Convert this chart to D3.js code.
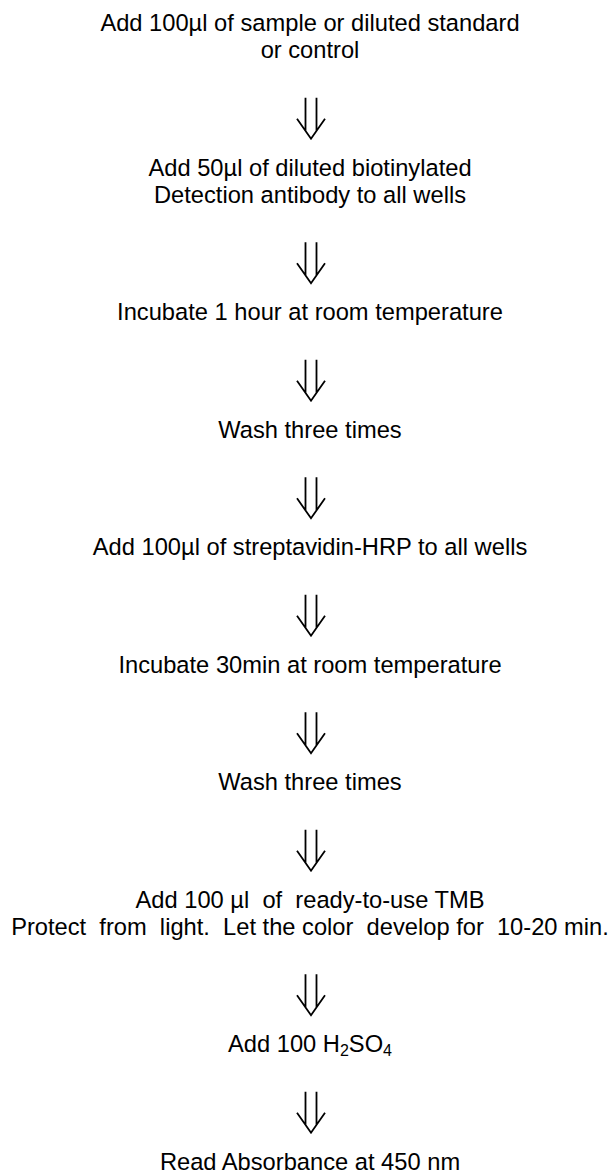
<!DOCTYPE html>
<html>
<head>
<meta charset="utf-8">
<script src="https://cdn.jsdelivr.net/npm/d3@7"></script>
<style>
  html, body { margin: 0; padding: 0; background: #fff; }
  svg { display: block; }
</style>
</head>
<body>
<svg></svg>
<script>
const width = 615;
const height = 1176;
const centerX = 310;

// Steps of the protocol, one array of text lines per box ("_4" = subscript)
const steps = [
  ["Add 100µl of sample or diluted standard", "or control"],
  ["Add 50µl of diluted biotinylated", "Detection antibody to all wells"],
  ["Incubate 1 hour at room temperature"],
  ["Wash three times"],
  ["Add 100µl of streptavidin-HRP to all wells"],
  ["Incubate 30min at room temperature"],
  ["Wash three times"],
  ["Add 100 µl  of  ready-to-use TMB", "Protect  from  light.  Let the color  develop for  10-20 min."],
  ["Add 100 H_2SO_4"],
  ["Read Absorbance at 450 nm"],
];

// Vertical rhythm
const firstBaseline = 31;
const lineHeight = 27;
const gapAbove = 39.8; // baseline -> arrow top
const arrowHeight = 41;
const gapBelow = 36.7; // arrow bottom -> next baseline

const svg = d3.select("svg").attr("width", width).attr("height", height);

// Work out where each line and arrow goes
let cursor = firstBaseline;
const layout = steps.map((lines, i) => {
  const ys = lines.map((_, j) => cursor + j * lineHeight);
  const last = ys[ys.length - 1];
  let arrow = null;
  if (i < steps.length - 1) {
    arrow = { top: last + gapAbove, bottom: last + gapAbove + arrowHeight };
    cursor = arrow.bottom + gapBelow;
  }
  return { lines, ys, arrow };
});

// Text lines
const textLines = layout.flatMap((s) => s.lines.map((t, j) => ({ text: t, y: s.ys[j] })));

const texts = svg
  .append("g")
  .selectAll("text")
  .data(textLines)
  .join("text")
  .attr("x", centerX)
  .attr("y", (d) => d.y)
  .attr("text-anchor", "middle")
  .style("font-family", "'Liberation Sans', Arial, sans-serif")
  .style("font-size", "23.7px")
  .style("white-space", "pre")
  .attr("fill", "#000");

// Split text on "_n" markers into normal / subscript pieces
texts.each(function (d) {
  const parts = d.text.split(/(_\d)/).filter((p) => p.length);
  const t = d3.select(this);
  let shift = 0;
  parts.forEach((p) => {
    const sub = p.startsWith("_");
    const dy = (sub ? 4 : 0) - shift;
    shift = sub ? 4 : 0;
    t.append("tspan")
      .attr("dy", dy)
      .style("font-size", sub ? "16px" : null)
      .text(sub ? p.slice(1) : p);
  });
});

// Double down arrows between steps
const arrows = layout.filter((s) => s.arrow).map((s) => s.arrow);

const arrowPath = (a) => {
  const p = d3.path();
  const half = 14;
  const headH = 20;
  const gap = 5.5;
  const joinY = a.bottom - (headH * gap) / half;
  p.moveTo(centerX + 1 - gap, a.top);
  p.lineTo(centerX + 1 - gap, joinY);
  p.moveTo(centerX + 1 + gap, a.top);
  p.lineTo(centerX + 1 + gap, joinY);
  p.moveTo(centerX + 1 - half, a.bottom - headH);
  p.lineTo(centerX + 1, a.bottom);
  p.lineTo(centerX + 1 + half, a.bottom - headH);
  return p.toString();
};

svg
  .append("g")
  .selectAll("path")
  .data(arrows)
  .join("path")
  .attr("d", arrowPath)
  .attr("fill", "none")
  .attr("stroke", "#000")
  .attr("stroke-width", 1.8);
</script>
</body>
</html>
